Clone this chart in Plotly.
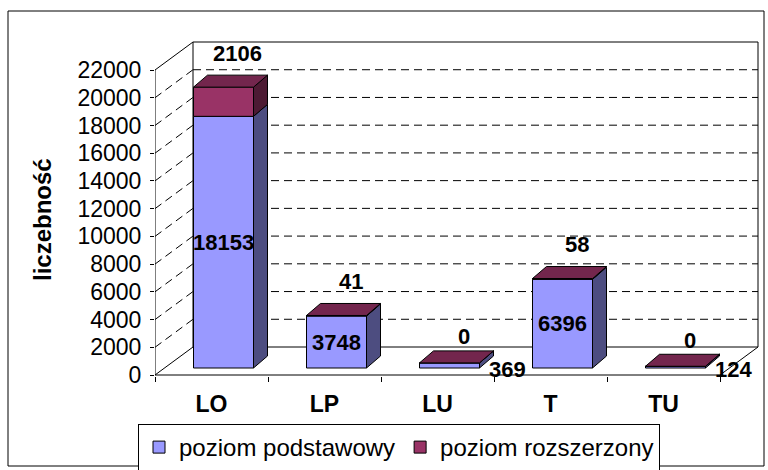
import plotly.graph_objects as go

# ---------------- data ----------------
categories = ["LO", "LP", "LU", "T", "TU"]
basic = [18153, 3748, 369, 6396, 124]        # poziom podstawowy
extended = [2106, 41, 0, 58, 0]              # poziom rozszerzony
y_ticks = [0, 2000, 4000, 6000, 8000, 10000, 12000, 14000, 16000, 18000, 20000, 22000]
series_names = ["poziom podstawowy", "poziom rozszerzony"]

# ---------------- styles ----------------
FONT = "Liberation Sans, Arial, sans-serif"
BLUE, BLUE_SIDE = "#9999FF", "#4D4D80"
MAROON, MAROON_SIDE, MAROON_TOP = "#993366", "#4D1A33", "#73264D"

# ---------------- geometry (pixels) ----------------
W, H = 768, 470
PLOT_L = 155
FLOOR_Y = 375
CAT_PX = 113
Y_PX = 305 / 22000
WALL_DX, WALL_DY = 38, 28
BAR_DX, BAR_DY = 12, 7
BAR_W = 60
DEPTH_DX, DEPTH_DY = 14, 12
PAD = 2

def ux(px):
    return px / CAT_PX

def uy(px):
    return px / Y_PX

n = len(categories)
wdx, wdy = ux(WALL_DX), uy(WALL_DY)
bdx, bdy = ux(BAR_DX), uy(BAR_DY)
ddx, ddy = ux(DEPTH_DX), uy(DEPTH_DY)
bw = ux(BAR_W)
top_val = y_ticks[-1]

x_min = -0.5
x_floor_r = n - 0.5
x_max = x_floor_r + wdx + ux(PAD)
y_min = -uy(1)
y_max = top_val + wdy + uy(PAD)

plot_w = (x_max - x_min) * CAT_PX
plot_h = (y_max - y_min) * Y_PX
m_l = PLOT_L
m_r = W - PLOT_L - plot_w
m_b = H - (FLOOR_Y + 1)
m_t = H - m_b - plot_h

def paper_x(px):
    return (px - m_l) / plot_w

def paper_y(py):
    return (H - m_b - py) / plot_h

fig = go.Figure()

# ---------------- walls & floor (shapes) ----------------
shapes = []
line_solid = dict(color="black", width=1)
line_dash = dict(color="black", width=1, dash="8px,5px")
# back wall
shapes.append(dict(type="rect", xref="x", yref="y", x0=x_min + wdx, x1=x_floor_r + wdx,
                   y0=wdy, y1=top_val + wdy, line=line_solid, layer="below"))
# left wall edges
shapes.append(dict(type="line", xref="x", yref="y", x0=x_min, x1=x_min, y0=0, y1=top_val,
                   line=line_solid, layer="below"))
shapes.append(dict(type="line", xref="x", yref="y", x0=x_min, x1=x_min + wdx, y0=top_val,
                   y1=top_val + wdy, line=line_solid, layer="below"))
shapes.append(dict(type="line", xref="x", yref="y", x0=x_min, x1=x_min + wdx, y0=0,
                   y1=wdy, line=line_solid, layer="below"))
# floor front and right edges
shapes.append(dict(type="line", xref="x", yref="y", x0=x_min, x1=x_floor_r, y0=0, y1=0,
                   line=line_solid, layer="below"))
shapes.append(dict(type="line", xref="x", yref="y", x0=x_floor_r, x1=x_floor_r + wdx, y0=0,
                   y1=wdy, line=line_solid, layer="below"))
# gridlines
for v in y_ticks[1:-1]:
    shapes.append(dict(type="line", xref="x", yref="y", x0=x_min + wdx, x1=x_floor_r + wdx,
                       y0=v + wdy, y1=v + wdy, line=line_dash, layer="below"))
    shapes.append(dict(type="line", xref="x", yref="y", x0=x_min, x1=x_min + wdx,
                       y0=v, y1=v + wdy, line=line_dash, layer="below"))
# outer chart border
shapes.append(dict(type="rect", xref="paper", yref="paper",
                   x0=paper_x(8), x1=paper_x(764), y0=paper_y(466), y1=paper_y(11),
                   line=line_solid, layer="above"))

# ---------------- bars: front faces ----------------
xs = [i + bdx for i in range(n)]
base_blue = [bdy] * n
base_maroon = [bdy + b for b in basic]
fig.add_trace(go.Bar(x=xs, y=basic, base=base_blue, width=bw, name=series_names[0],
                     marker=dict(color=BLUE, line=dict(color="black", width=1)),
                     hoverinfo="skip"))
fig.add_trace(go.Bar(x=xs, y=extended, base=base_maroon, width=bw, name=series_names[1],
                     marker=dict(color=MAROON, line=dict(color="black", width=1)),
                     hoverinfo="skip"))

# ---------------- side and top faces ----------------
def side_poly(bottoms, heights):
    px, py = [], []
    for i in range(n):
        xr = xs[i] + bw / 2
        b0 = bottoms[i]
        b1 = bottoms[i] + heights[i]
        px += [xr, xr + ddx, xr + ddx, xr, xr, None]
        py += [b0, b0 + ddy, b1 + ddy, b1, b0, None]
    return px, py

def top_poly():
    px, py = [], []
    for i in range(n):
        xl = xs[i] - bw / 2
        xr = xs[i] + bw / 2
        t = bdy + basic[i] + extended[i]
        px += [xl, xl + ddx, xr + ddx, xr, xl, None]
        py += [t, t + ddy, t + ddy, t, t, None]
    return px, py

for (pxs, pys), col in [(side_poly(base_blue, basic), BLUE_SIDE),
                        (side_poly(base_maroon, extended), MAROON_SIDE),
                        (top_poly(), MAROON_TOP)]:
    fig.add_trace(go.Scatter(x=pxs, y=pys, mode="lines", fill="toself", fillcolor=col,
                             line=dict(color="black", width=1), showlegend=False,
                             hoverinfo="skip"))

# ---------------- data labels ----------------
annotations = []
lab_font = dict(family=FONT, size=22, color="black", weight="bold")
for i in range(n):
    if basic[i] >= 1000:
        annotations.append(dict(x=xs[i], y=bdy + basic[i] / 2, text=str(basic[i]),
                                showarrow=False, font=lab_font, xref="x", yref="y"))
    else:
        annotations.append(dict(x=xs[i] + bw / 2, y=bdy, text=str(basic[i]),
                                showarrow=False, font=lab_font, xref="x", yref="y",
                                xshift=28, yshift=-1))
    top = bdy + basic[i] + extended[i]
    annotations.append(dict(x=xs[i] + ddx, y=top + ddy, text=str(extended[i]),
                            showarrow=False, font=lab_font, xref="x", yref="y",
                            yshift=22 if extended[i] > 0 else 14))

# y-axis title
annotations.append(dict(x=paper_x(42), y=paper_y(220), xref="paper", yref="paper",
                        xanchor="center", yanchor="middle",
                        text="liczebność", textangle=-90, showarrow=False,
                        font=dict(family=FONT, size=24, color="black", weight="bold")))

fig.update_layout(
    width=W, height=H,
    margin=dict(l=m_l, r=m_r, t=m_t, b=m_b, pad=0, autoexpand=False),
    paper_bgcolor="white", plot_bgcolor="white",
    barmode="overlay",
    shapes=shapes,
    annotations=annotations,
    showlegend=True,
    legend=dict(orientation="h", x=paper_x(399), y=paper_y(424), xanchor="center",
                yanchor="top", bordercolor="black", borderwidth=1,
                font=dict(family=FONT, size=24, color="black"),
                itemclick=False, itemdoubleclick=False, traceorder="normal",
                tracegroupgap=0, itemwidth=30),
    font=dict(family=FONT, color="black"),
)

fig.update_xaxes(
    range=[x_min, x_max], showgrid=False, zeroline=False, showline=False,
    tickmode="array", tickvals=list(range(n)), ticktext=categories, ticks="",
    tickfont=dict(family=FONT, size=23, color="black", weight="bold"),
    ticklabelstandoff=12, automargin=False,
    minor=dict(tickmode="array", tickvals=[i - 0.5 for i in range(n + 1)], ticks="outside",
               ticklen=5, tickcolor="black", tickwidth=1, showgrid=False),
    fixedrange=True,
)
fig.update_yaxes(
    range=[y_min, y_max], showgrid=False, zeroline=False, showline=False,
    tickmode="array", tickvals=y_ticks, ticktext=[str(v) for v in y_ticks],
    ticks="outside", ticklen=4, tickcolor="black",
    tickfont=dict(family=FONT, size=23, color="black"),
    ticklabelstandoff=4,
    automargin=False,
    fixedrange=True,
)

fig.write_html(
    "out.html",
    config={"displayModeBar": False, "staticPlot": True},
    post_script="document.body.style.margin='0';document.body.style.padding='0';"
                "document.body.style.overflow='hidden';",
)
